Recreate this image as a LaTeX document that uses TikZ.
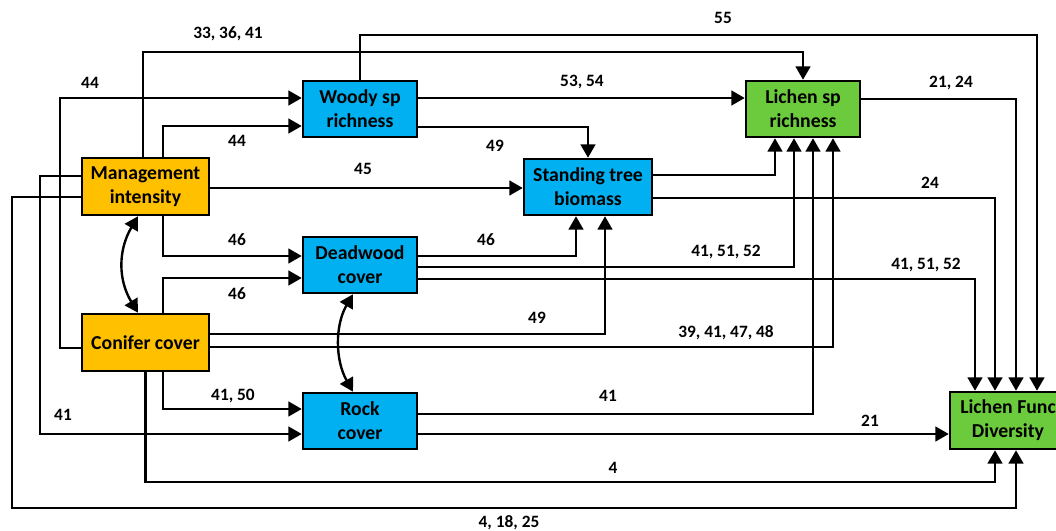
\documentclass[tikz,border=0pt]{standalone}
\usepackage{fontspec}
\setmainfont{Carlito}
\usetikzlibrary{arrows.meta}
\definecolor{mgmtorange}{HTML}{FFC000}
\definecolor{habblue}{HTML}{00B0F0}
\definecolor{lichgreen}{HTML}{6CCB3C}

\begin{document}
\begin{tikzpicture}[x=0.75pt, y=-0.75pt,
    every node/.style={font=\bfseries\fontsize{14.8}{18}\selectfont, align=center},
    box/.style={draw, line width=1.9pt, inner sep=0pt, minimum width=85.5pt, minimum height=42pt},
    driver/.style={box, fill=mgmtorange, minimum width=95.25pt, minimum height=42.75pt},
    habitat/.style={box, fill=habblue},
    lichen/.style={box, fill=lichgreen},
    lbl/.style={font=\bfseries\fontsize{13}{15}\selectfont, inner sep=0pt},
    lnk/.style={line width=1.8pt, -{Triangle[length=10pt, width=11pt]}},
    both/.style={line width=1.8pt, {Triangle[length=10pt, width=11pt]}-{Triangle[length=10pt, width=11pt]}}]
                    \fill[white] (0,0) rectangle (1056,531);
                    \useasboundingbox (0,0) rectangle (1056,531);

                    \node[driver] (mgmt) at (145.5,186.5) {Management\\intensity};
                    \node[driver] (conif) at (145.5,342.5) {Conifer cover};
                    \node[habitat] (woody) at (360,109) {Woody sp\\richness};
                    \node[habitat, minimum width=96pt] (stand) at (588,187) {Standing tree\\biomass};
                    \node[habitat] (dead) at (360,265) {Deadwood\\cover};
                    \node[habitat] (rock) at (360,421) {Rock\\cover};
                    \node[lichen] (lsp) at (803,109) {Lichen sp\\richness};
                    \node[lichen, minimum width=87pt, minimum height=42.75pt] (lfd) at (1008,420.5) {Lichen Func\\Diversity};

                    \draw[lnk] (woody.north) |- (1037,35) -- (lfd.north -| 1037,0);
                    \draw[lnk] (mgmt.north -| 143,0) -- (143,52) -| (lsp.north);
                    \draw[lnk] (conif.west |- 0,348) -| (60,98) -- (woody.west |- 0,98);
                    \draw[lnk] (mgmt.north -| 163,0) |- (woody.west |- 0,126);
                    \draw[lnk] (mgmt.east |- 0,188) -- (stand.west |- 0,188);
                    \draw[lnk] (mgmt.south -| 163,0) |- (dead.west |- 0,256);
                    \draw[lnk] (conif.north -| 163,0) |- (dead.west |- 0,278);
                    \draw[both] (mgmt.south -| 138,0) .. controls (118,250) and (118,280) .. (conif.north -| 138,0);
                    \draw[both] (dead.south -| 353,0) .. controls (335,325) and (335,360) .. (rock.north -| 353,0);
                    \draw[lnk] (woody.east |- 0,127) -| (stand.north);
                    \draw[lnk] (woody.east |- 0,98) -- (lsp.west |- 0,98);
                    \draw[lnk] (stand.east |- 0,175) -| (lsp.south -| 775,0);
                    \draw[lnk] (stand.east |- 0,198) -| (lfd.north -| 995,0);
                    \draw[lnk] (dead.east |- 0,256) -| (stand.south -| 576,0);
                    \draw[lnk] (dead.east |- 0,267) -| (lsp.south -| 794,0);
                    \draw[lnk] (dead.east |- 0,279) -| (lfd.north -| 975,0);
                    \draw[lnk] (conif.east |- 0,334) -| (stand.south -| 605,0);
                    \draw[lnk] (conif.east |- 0,347) -| (lsp.south -| 833,0);
                    \draw[lnk] (conif.south -| 163,0) |- (rock.west |- 0,409);
                    \draw[lnk] (mgmt.west |- 0,176) -| (40,434) -- (rock.west |- 0,434);
                    \draw[lnk] (conif.south) |- (995,482) -- (lfd.south -| 995,0);
                    \draw[lnk] (mgmt.west |- 0,197) -| (12,508) -| (lfd.south -| 1016,0);
                    \draw[lnk] (rock.east |- 0,414) -| (lsp.south -| 813,0);
                    \draw[lnk] (rock.east |- 0,434) -- (lfd.west |- 0,434);
                    \draw[lnk] (lsp.east |- 0,99) -| (lfd.north -| 1016,0);

                    \node[lbl] (l55) at (723,18) {55};
                    \node[lbl] (l333641) at (228,34) {33, 36, 41};
                    \node[lbl] (l44a) at (90,83) {44};
                    \node[lbl] (l44b) at (237,141) {44};
                    \node[lbl] (l45) at (363,169) {45};
                    \node[lbl] (l46a) at (237,240) {46};
                    \node[lbl] (l46b) at (237,294) {46};
                    \node[lbl] (l5354) at (582,82) {53, 54};
                    \node[lbl] (l49a) at (495,146) {49};
                    \node[lbl] (l2124) at (951,83) {21, 24};
                    \node[lbl] (l24) at (930,183) {24};
                    \node[lbl] (l46c) at (486,240) {46};
                    \node[lbl] (l415152a) at (726,252) {41, 51, 52};
                    \node[lbl] (l415152b) at (926,265) {41, 51, 52};
                    \node[lbl] (l49b) at (537,318) {49};
                    \node[lbl] (l39414748) at (726,333) {39, 41, 47, 48};
                    \node[lbl] (l4150) at (233,396) {41, 50};
                    \node[lbl] (l41a) at (63,415) {41};
                    \node[lbl] (l41b) at (608,396) {41};
                    \node[lbl] (l21) at (870,421) {21};
                    \node[lbl] (l4) at (613,468) {4};
                    \node[lbl] (l41825) at (509,523) {4, 18, 25};
                \end{tikzpicture}
\end{document}
